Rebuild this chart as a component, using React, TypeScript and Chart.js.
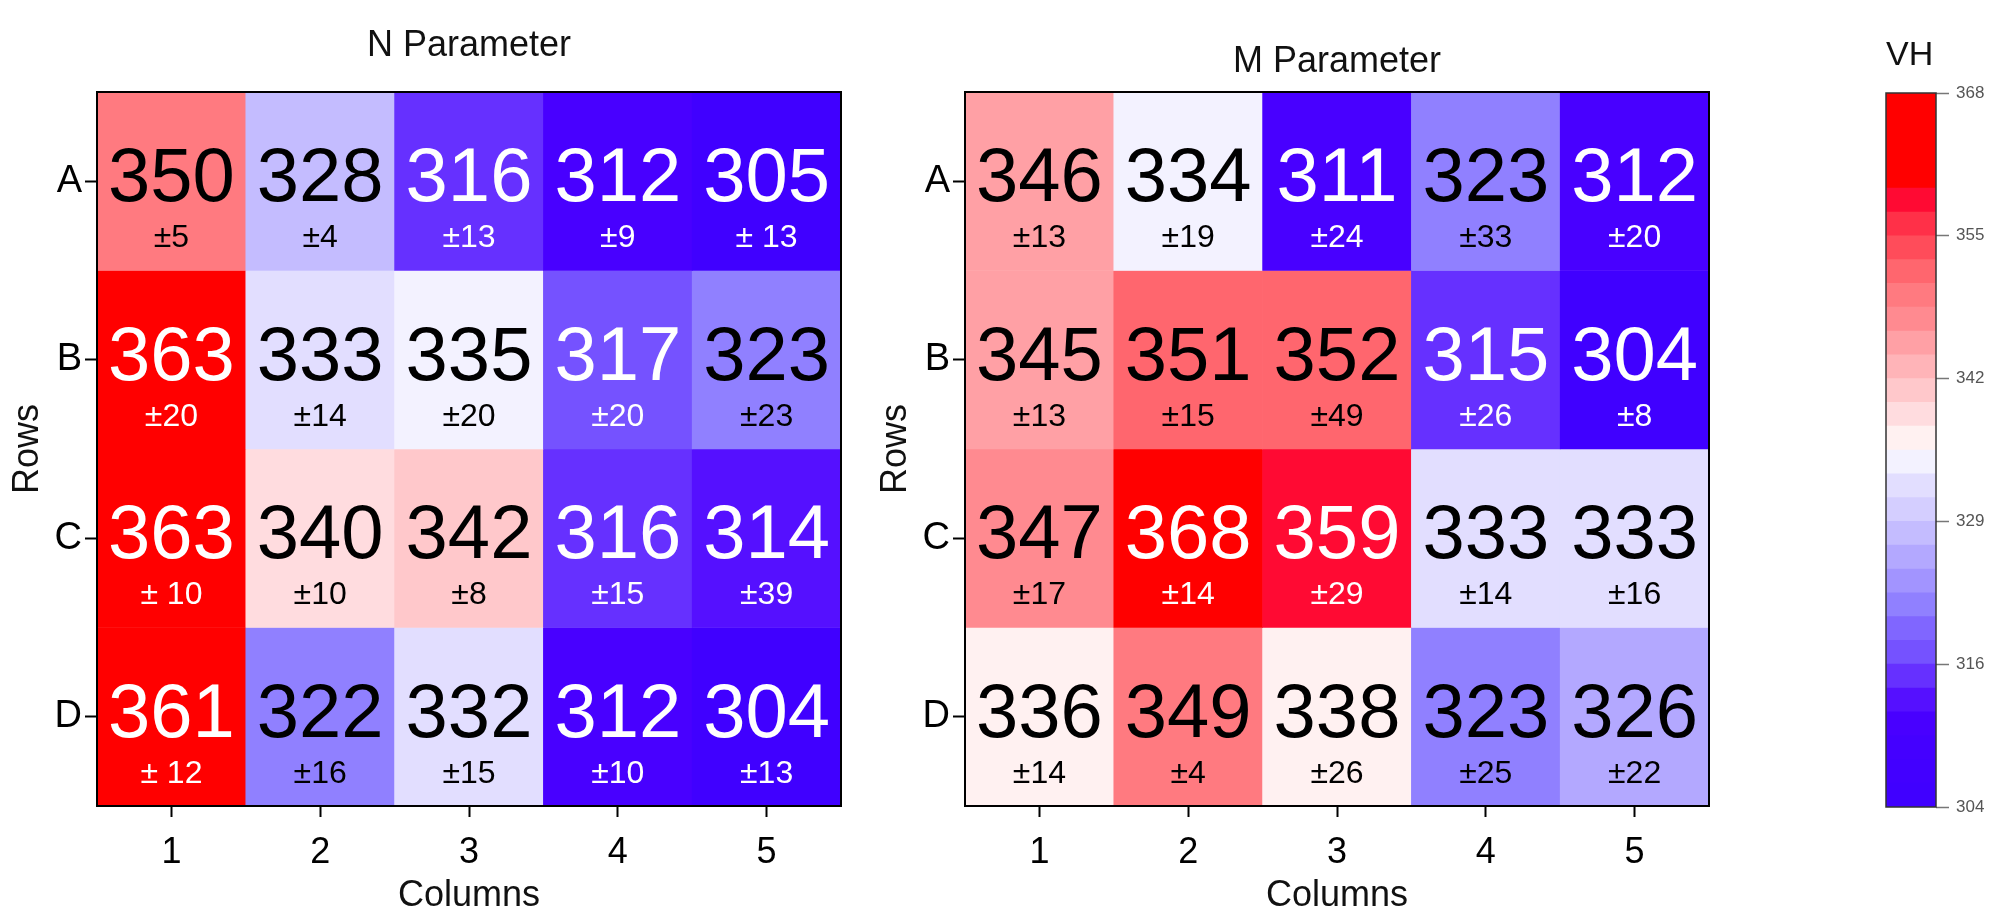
import React, { useEffect, useRef } from 'react';
import { Chart, registerables } from 'chart.js';

Chart.register(...registerables);

// ---------------- data ----------------
const rowLabels = ['A', 'B', 'C', 'D'];
const columnLabels = ['1', '2', '3', '4', '5'];

const nValues = [
  [350, 328, 316, 312, 305],
  [363, 333, 335, 317, 323],
  [363, 340, 342, 316, 314],
  [361, 322, 332, 312, 304],
];
const nErrors = [
  ['±5', '±4', '±13', '±9', '± 13'],
  ['±20', '±14', '±20', '±20', '±23'],
  ['± 10', '±10', '±8', '±15', '±39'],
  ['± 12', '±16', '±15', '±10', '±13'],
];

const mValues = [
  [346, 334, 311, 323, 312],
  [345, 351, 352, 315, 304],
  [347, 368, 359, 333, 333],
  [336, 349, 338, 323, 326],
];
const mErrors = [
  ['±13', '±19', '±24', '±33', '±20'],
  ['±13', '±15', '±49', '±26', '±8'],
  ['±17', '±14', '±29', '±14', '±16'],
  ['±14', '±4', '±26', '±25', '±22'],
];

const scaleMin = 304;
const scaleMax = 368;
const colorbarTickValues = [304, 316.8, 329.6, 342.4, 355.2, 368];
const colorbarTickLabels = ['304', '316', '329', '342', '355', '368'];

// 30 discrete colour levels, bottom (304) to top (368)
const bandColors = [
  '#4000ff', '#4200ff', '#4400ff', '#4800ff', '#5510ff',
  '#6630ff', '#7552ff', '#8066ff', '#9080ff', '#a294ff',
  '#b3a8ff', '#c4bcff', '#d4ceff', '#e2deff', '#f3f2ff',
  '#fff1f1', '#ffdcdf', '#ffc8cb', '#ffb4b8', '#ffa0a5',
  '#ff8a90', '#ff7a80', '#ff666e', '#ff4c5a', '#ff3048',
  '#ff0a33', '#ff0000', '#ff0000', '#ff0000', '#ff0000',
];

// ---------------- helpers ----------------
const FAMILY = '"Liberation Sans", Arial, Helvetica, sans-serif';
const bandStep = (scaleMax - scaleMin) / bandColors.length;

function bandIndex(v: number): number {
  const i = Math.floor((v - scaleMin) / bandStep + 1e-9);
  return Math.max(0, Math.min(bandColors.length - 1, i));
}
function cellColor(v: number): string {
  return bandColors[bandIndex(v)];
}
function textColor(v: number): string {
  const b = bandIndex(v);
  return b <= 6 || b >= 25 ? '#ffffff' : '#000000';
}

const boxPlugin = {
  id: 'box',
  afterDatasetsDraw(chart: any, _args: any, opts: any) {
    const { ctx, chartArea: a } = chart;
    ctx.save();
    ctx.strokeStyle = opts.color || '#000';
    ctx.lineWidth = opts.width || 2;
    ctx.strokeRect(a.left, a.top, a.right - a.left, a.bottom - a.top);
    ctx.restore();
  },
};

function cellTextPlugin(values: number[][], errors: string[][]) {
  return {
    id: 'cellText',
    afterDatasetsDraw(chart: any) {
      const { ctx } = chart;
      ctx.save();
      ctx.textAlign = 'center';
      ctx.textBaseline = 'middle';
      values.forEach((row, r) => {
        const meta = chart.getDatasetMeta(r);
        row.forEach((v, c) => {
          const el: any = meta.data[c];
          if (!el) return;
          const cx = el.x;
          const cy = (el.y + el.base) / 2;
          ctx.fillStyle = textColor(v);
          ctx.font = `76px ${FAMILY}`;
          ctx.fillText(String(v), cx, cy - 1);
          ctx.font = `32px ${FAMILY}`;
          ctx.fillText(errors[r][c], cx, cy + 57);
        });
      });
      ctx.restore();
    },
  };
}

function heatmapConfig(title: string, values: number[][], errors: string[][], titleTop: number): any {
  const rowTickValues = rowLabels.map((_, i) => i + 0.5);
  const tickGrid = {
    display: true,
    offset: false,
    drawOnChartArea: false,
    drawTicks: true,
    tickLength: 12,
    tickWidth: 2,
    tickColor: '#000',
  };
  return {
    type: 'bar',
    data: {
      labels: columnLabels,
      datasets: rowLabels.map((row, r) => ({
        label: row,
        data: values[r].map(() => [r, r + 1]),
        backgroundColor: values[r].map((v) => cellColor(v)),
        borderWidth: 0,
        grouped: false,
        barPercentage: 1,
        categoryPercentage: 1,
      })),
    },
    options: {
      responsive: false,
      animation: false,
      events: [],
      layout: { padding: { left: 0, right: 19, top: 0, bottom: 0 } },
      plugins: {
        legend: { display: false },
        tooltip: { enabled: false },
        box: { color: '#000', width: 2 },
        title: {
          display: true,
          text: title,
          fullSize: false,
          color: '#111',
          font: { size: 36, family: FAMILY, weight: 'normal', lineHeight: 1.2 },
          padding: { top: titleTop, bottom: 92 - 43.2 - titleTop },
        },
      },
      scales: {
        x: {
          type: 'category',
          offset: true,
          grid: { ...tickGrid, tickLength: 11 },
          border: { display: false },
          ticks: { color: '#000', font: { size: 36, family: FAMILY }, padding: 14, maxRotation: 0 },
          title: {
            display: true,
            text: 'Columns',
            color: '#111',
            font: { size: 36, family: FAMILY, lineHeight: 0.9 },
            padding: { top: 0, bottom: 1.5 },
          },
          afterFit: (s: any) => {
            s.height = 108;
          },
        },
        y: {
          type: 'linear',
          min: 0,
          max: rowLabels.length,
          reverse: true,
          afterBuildTicks: (s: any) => {
            s.ticks = rowTickValues.map((value) => ({ value }));
          },
          grid: tickGrid,
          border: { display: false },
          ticks: {
            color: '#000',
            font: { size: 38, family: FAMILY },
            padding: 3,
            callback: (_v: any, i: number) => rowLabels[i],
          },
          title: {
            display: true,
            text: 'Rows',
            color: '#111',
            font: { size: 36, family: FAMILY, lineHeight: 1.2 },
            padding: { top: 6, bottom: 0 },
          },
          afterFit: (s: any) => {
            s.width = 97;
          },
        },
      },
    },
    plugins: [cellTextPlugin(values, errors), boxPlugin],
  };
}

function colorbarConfig(): any {
  return {
    type: 'bar',
    data: {
      labels: ['VH'],
      datasets: bandColors.map((color, k) => ({
        label: String(k),
        data: [[scaleMin + k * bandStep, scaleMin + (k + 1) * bandStep]],
        backgroundColor: color,
        borderWidth: 0,
        grouped: false,
        barPercentage: 1,
        categoryPercentage: 1,
      })),
    },
    options: {
      responsive: false,
      animation: false,
      events: [],
      layout: { padding: { left: 16, right: 0, top: 0, bottom: 107 } },
      plugins: {
        legend: { display: false },
        tooltip: { enabled: false },
        box: { color: '#333', width: 1.5 },
        title: {
          display: true,
          text: 'VH',
          align: 'start',
          fullSize: false,
          color: '#111',
          font: { size: 34, family: FAMILY, weight: 'normal', lineHeight: 1.2 },
          padding: { top: 35, bottom: 17.2 },
        },
      },
      scales: {
        x: { display: false },
        y: {
          type: 'linear',
          position: 'right',
          min: scaleMin,
          max: scaleMax,
          afterBuildTicks: (s: any) => {
            s.ticks = colorbarTickValues.map((value) => ({ value }));
          },
          grid: {
            display: true,
            drawOnChartArea: false,
            drawTicks: true,
            tickLength: 13,
            tickWidth: 1.5,
            tickColor: '#777',
          },
          border: { display: false },
          ticks: {
            color: '#555',
            font: { size: 17, family: FAMILY },
            padding: 7,
            callback: (_v: any, i: number) => colorbarTickLabels[i],
          },
          afterFit: (s: any) => {
            s.width = 53;
          },
        },
      },
    },
    plugins: [boxPlugin],
  };
}

export default function App() {
  const nRef = useRef<HTMLCanvasElement>(null);
  const mRef = useRef<HTMLCanvasElement>(null);
  const cRef = useRef<HTMLCanvasElement>(null);

  useEffect(() => {
    Chart.defaults.font.family = FAMILY;
    const charts: Chart[] = [];
    if (nRef.current) charts.push(new Chart(nRef.current, heatmapConfig('N Parameter', nValues, nErrors, 24)));
    if (mRef.current) charts.push(new Chart(mRef.current, heatmapConfig('M Parameter', mValues, mErrors, 40)));
    if (cRef.current) charts.push(new Chart(cRef.current, colorbarConfig()));
    return () => charts.forEach((c) => c.destroy());
  }, []);

  const canvasStyle = (left: number, width: number): React.CSSProperties => ({
    position: 'absolute',
    left,
    top: 0,
    width,
    height: 914,
    display: 'block',
  });

  return (
    <div style={{ position: 'absolute', left: 0, top: 0, width: 1989, height: 914, background: '#fff', overflow: 'hidden' }}>
      <canvas ref={nRef} width={860} height={914} style={canvasStyle(0, 860)} />
      <canvas ref={mRef} width={860} height={914} style={canvasStyle(868, 860)} />
      <canvas ref={cRef} width={119} height={914} style={canvasStyle(1870, 119)} />
    </div>
  );
}
